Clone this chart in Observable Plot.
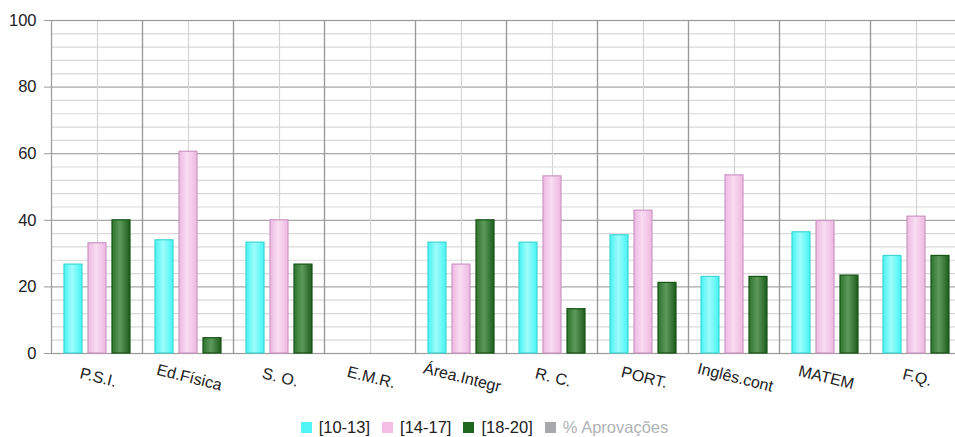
<!DOCTYPE html>
<html>
<head>
<meta charset="utf-8">
<script src="https://cdn.jsdelivr.net/npm/d3@7"></script>
<script src="https://cdn.jsdelivr.net/npm/@observablehq/plot@0.6"></script>
<style>
  html, body { margin: 0; padding: 0; background: #fff; }
  body { width: 955px; height: 437px; overflow: hidden; font-family: "Liberation Sans", Arial, sans-serif; }
  #chart { width: 955px; height: 408px; overflow: hidden; }
  #chart svg { max-width: none !important; display: block; }
  #legend { width: 955px; display: flex; justify-content: center; align-items: center; gap: 12px; margin-top: 10px; padding-left: 14px; box-sizing: border-box; font-size: 16.5px; color: #222; line-height: 18px; }
  #legend .item { display: flex; align-items: center; gap: 7px; }
  #legend .sw { width: 11px; height: 11px; display: inline-block; }
</style>
</head>
<body>
<div id="chart"></div>
<div id="legend"></div>
<script>
const categories = ["P.S.I.", "Ed.Física", "S. O.", "E.M.R.", "Área.Integr", "R. C.", "PORT.", "Inglês.cont", "MATEM", "F.Q."];
const series = ["[10-13]", "[14-17]", "[18-20]"];
const v10_13 = [26.7, 34.0, 33.3, null, 33.3, 33.3, 35.5, 23.0, 36.4, 29.3];
const v14_17 = [33.1, 60.6, 40.0, null, 26.7, 53.2, 42.9, 53.5, 39.8, 41.1];
const v18_20 = [40.0, 4.6, 26.7, null, 40.0, 13.3, 21.2, 23.0, 23.4, 29.3];
const yTicks = [0, 20, 40, 60, 80, 100];
const yMinor = [4, 8, 12, 16, 24, 28, 32, 36, 44, 48, 52, 56, 64, 68, 72, 76, 84, 88, 92, 96];
const hiddenSeries = "% Aprovações";

const gradIds = ["gCyan", "gPink", "gGreen"];
const strokes = ["#3fd6d6", "#cc96c4", "#145414"];
const gradStops = [
  ["#46f4f4", "#9ffcfc", "#46f4f4"],
  ["#eeb8e2", "#f9dcf2", "#eeb8e2"],
  ["#2e742e", "#5c9a5c", "#1c5c1c"]
];
const swatches = ["#4ff5f5", "#f4bde6", "#1d661d", "#a7a9ac"];

const allVals = [v10_13, v14_17, v18_20];
const rows = allVals.map((vals, i) =>
  categories.map((c, j) => ({cat: c, series: series[i], value: vals[j]})).filter(d => d.value != null)
);

const W = 962;
const plot = Plot.plot({
  width: W,
  height: 408,
  marginTop: 20,
  marginLeft: 51,
  marginRight: 1,
  marginBottom: 55,
  style: {fontFamily: "'Liberation Sans', Arial, sans-serif", color: "#222", background: "#fff", maxWidth: "none"},
  fx: {domain: categories, paddingInner: 0, paddingOuter: 0, axis: null, label: null},
  x: {domain: series, paddingInner: 0.27, paddingOuter: 0.5, axis: null},
  y: {domain: [0, 100], axis: null},
  marks: [
    Plot.ruleY(yMinor, {stroke: "#d9d9d9", strokeWidth: 1.2}),
    Plot.ruleY(yTicks, {stroke: "#a8a8a8", strokeWidth: 1.2}),
    Plot.ruleX(categories, {fx: d => d, x: () => series[1], stroke: "#d3d3d3", strokeWidth: 1.2}),
    Plot.frame({stroke: "#9a9a9a", strokeWidth: 1.2}),
    ...rows.map((r, i) => Plot.barY(r, {fx: "cat", x: "series", y: "value", fill: `url(#${gradIds[i]})`, stroke: strokes[i], strokeWidth: 1.2, inset: 0})),
    Plot.axisY({ticks: yTicks, tickSize: 7, tickPadding: 8, fontSize: 16.5, stroke: "#9a9a9a", label: null, anchor: "left"}),
    Plot.text(categories, {fx: d => d, text: d => d, frameAnchor: "bottom", dy: 29, rotate: 14, fontSize: 16, fill: "#222"})
  ]
});
plot.style.maxWidth = "none";
plot.style.width = W + "px";
plot.style.height = "408px";

// gradients for the bars
const defs = d3.select(plot).insert("defs", ":first-child");
gradIds.forEach((id, i) => {
  const g = defs.append("linearGradient").attr("id", id).attr("x1", "0").attr("x2", "1").attr("y1", "0").attr("y2", "0");
  g.append("stop").attr("offset", "0%").attr("stop-color", gradStops[i][0]);
  g.append("stop").attr("offset", "45%").attr("stop-color", gradStops[i][1]);
  g.append("stop").attr("offset", "100%").attr("stop-color", gradStops[i][2]);
});

document.getElementById("chart").appendChild(plot);

const legend = document.getElementById("legend");
[...series, hiddenSeries].forEach((s, i) => {
  const item = document.createElement("span");
  item.className = "item";
  const sw = document.createElement("span");
  sw.className = "sw";
  sw.style.background = swatches[i];
  const t = document.createElement("span");
  t.textContent = s;
  if (i === 3) t.style.color = "#b0b2b5";
  item.appendChild(sw);
  item.appendChild(t);
  legend.appendChild(item);
});
</script>
</body>
</html>
